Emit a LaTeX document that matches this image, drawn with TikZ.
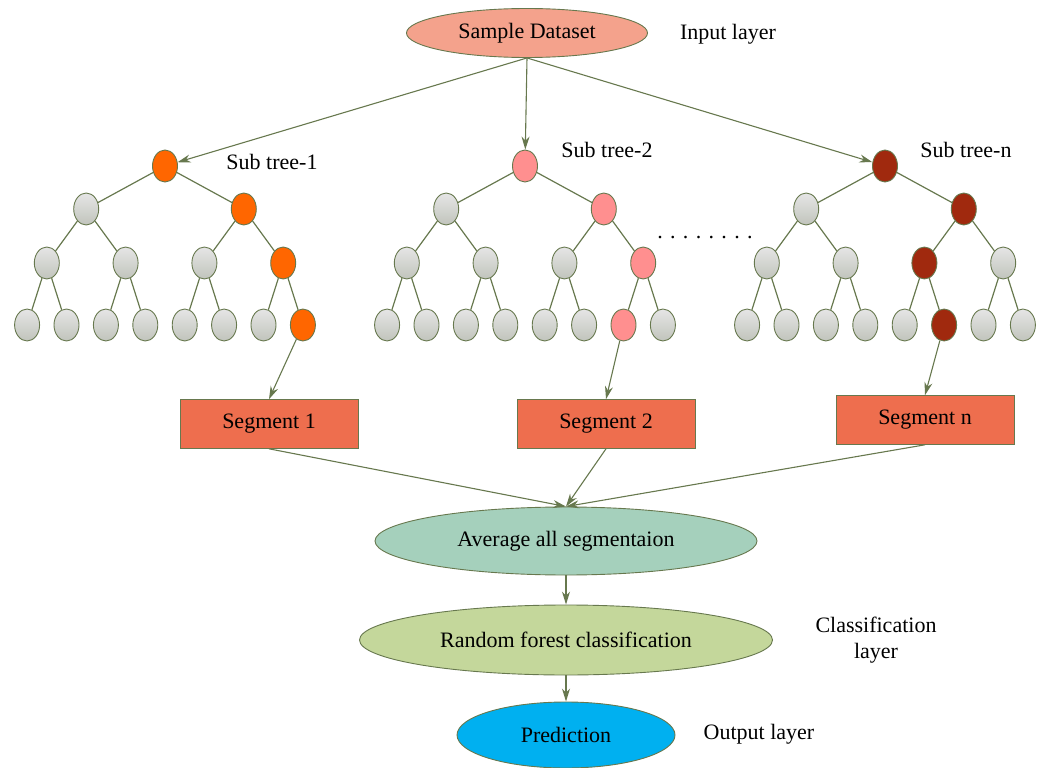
\documentclass[tikz,border=0pt]{standalone}
\usepackage{fontspec}
\setmainfont{Liberation Serif}
\usetikzlibrary{positioning,shapes.geometric,arrows.meta}

\definecolor{olive}{HTML}{67784E}
\definecolor{dsfill}{HTML}{F4A28C}
\definecolor{segfill}{HTML}{EE6E4E}
\definecolor{avgfill}{HTML}{A5D0BC}
\definecolor{rffill}{HTML}{C4D79B}
\definecolor{predfill}{HTML}{00B0F0}
\definecolor{hotorange}{HTML}{FF6600}
\definecolor{hotpink}{HTML}{FF8F8F}
\definecolor{hotred}{HTML}{A0290E}

\tikzset{
  tnode/.style={ellipse,draw=olive,line width=0.9pt,minimum width=25pt,minimum height=32pt,inner sep=0pt},
  leaf/.style={tnode,top color=gray!20!white,bottom color=gray!55!olive!45!white},
  hotA/.style={tnode,fill=hotorange},
  hotB/.style={tnode,fill=hotpink},
  hotC/.style={tnode,fill=hotred},
  tedge/.style={draw=olive,line width=1.2pt},
  arr/.style={->,draw=olive,line width=1.1pt},
  bigell/.style={ellipse,draw=olive,line width=0.9pt,inner sep=0pt},
  segbox/.style={rectangle,draw=olive,line width=0.6pt,fill=segfill,minimum width=178pt,minimum height=49pt}
}

\begin{document}
\begin{tikzpicture}[x=1pt,y=-1pt,on grid,font=\fontsize{22}{26}\selectfont,
  >={Stealth[length=13pt,width=8pt]}]
  \useasboundingbox (0,0) rectangle (1045,768);

  % input layer
  \node[bigell,fill=dsfill,minimum width=241pt,minimum height=49pt] (ds) at (527,33) {Sample Dataset};
  \node (inlab) at (728,34) {Input layer};

  % sub tree 1
  \node[hotA] (a1) at (165,166) {};
  \node[leaf] (a2) [below left=43pt and 78.8pt of a1] {};
  \node[hotA] (a3) [below right=43pt and 78.8pt of a1] {};
  \node[leaf] (a4) [below left=54pt and 39.4pt of a2] {};
  \node[leaf] (a5) [below right=54pt and 39.4pt of a2] {};
  \node[leaf] (a6) [below left=54pt and 39.4pt of a3] {};
  \node[hotA] (a7) [below right=54pt and 39.4pt of a3] {};
  \node[leaf] (a8) [below left=62pt and 19.7pt of a4] {};
  \node[leaf] (a9) [below right=62pt and 19.7pt of a4] {};
  \node[leaf] (a10) [below left=62pt and 19.7pt of a5] {};
  \node[leaf] (a11) [below right=62pt and 19.7pt of a5] {};
  \node[leaf] (a12) [below left=62pt and 19.7pt of a6] {};
  \node[leaf] (a13) [below right=62pt and 19.7pt of a6] {};
  \node[leaf] (a14) [below left=62pt and 19.7pt of a7] {};
  \node[hotA] (a15) [below right=62pt and 19.7pt of a7] {};
  \path[tedge] (a1) edge (a2) edge (a3)
    (a2) edge (a4) edge (a5)
    (a3) edge (a6) edge (a7)
    (a4) edge (a8) edge (a9)
    (a5) edge (a10) edge (a11)
    (a6) edge (a12) edge (a13)
    (a7) edge (a14) edge (a15);
  \node (st1) at (272,162) {Sub tree-1};

  % sub tree 2
  \node[hotB] (b1) at (525,166) {};
  \node[leaf] (b2) [below left=43pt and 78.8pt of b1] {};
  \node[hotB] (b3) [below right=43pt and 78.8pt of b1] {};
  \node[leaf] (b4) [below left=54pt and 39.4pt of b2] {};
  \node[leaf] (b5) [below right=54pt and 39.4pt of b2] {};
  \node[leaf] (b6) [below left=54pt and 39.4pt of b3] {};
  \node[hotB] (b7) [below right=54pt and 39.4pt of b3] {};
  \node[leaf] (b8) [below left=62pt and 19.7pt of b4] {};
  \node[leaf] (b9) [below right=62pt and 19.7pt of b4] {};
  \node[leaf] (b10) [below left=62pt and 19.7pt of b5] {};
  \node[leaf] (b11) [below right=62pt and 19.7pt of b5] {};
  \node[leaf] (b12) [below left=62pt and 19.7pt of b6] {};
  \node[leaf] (b13) [below right=62pt and 19.7pt of b6] {};
  \node[hotB] (b14) [below left=62pt and 19.7pt of b7] {};
  \node[leaf] (b15) [below right=62pt and 19.7pt of b7] {};
  \path[tedge] (b1) edge (b2) edge (b3)
    (b2) edge (b4) edge (b5)
    (b3) edge (b6) edge (b7)
    (b4) edge (b8) edge (b9)
    (b5) edge (b10) edge (b11)
    (b6) edge (b12) edge (b13)
    (b7) edge (b14) edge (b15);
  \node (st2) at (607,150) {Sub tree-2};

  \node (dots) at (705,238) {. . . . . . . .};

  % sub tree n
  \node[hotC] (c1) at (885,166) {};
  \node[leaf] (c2) [below left=43pt and 78.8pt of c1] {};
  \node[hotC] (c3) [below right=43pt and 78.8pt of c1] {};
  \node[leaf] (c4) [below left=54pt and 39.4pt of c2] {};
  \node[leaf] (c5) [below right=54pt and 39.4pt of c2] {};
  \node[hotC] (c6) [below left=54pt and 39.4pt of c3] {};
  \node[leaf] (c7) [below right=54pt and 39.4pt of c3] {};
  \node[leaf] (c8) [below left=62pt and 19.7pt of c4] {};
  \node[leaf] (c9) [below right=62pt and 19.7pt of c4] {};
  \node[leaf] (c10) [below left=62pt and 19.7pt of c5] {};
  \node[leaf] (c11) [below right=62pt and 19.7pt of c5] {};
  \node[leaf] (c12) [below left=62pt and 19.7pt of c6] {};
  \node[hotC] (c13) [below right=62pt and 19.7pt of c6] {};
  \node[leaf] (c14) [below left=62pt and 19.7pt of c7] {};
  \node[leaf] (c15) [below right=62pt and 19.7pt of c7] {};
  \path[tedge] (c1) edge (c2) edge (c3)
    (c2) edge (c4) edge (c5)
    (c3) edge (c6) edge (c7)
    (c4) edge (c8) edge (c9)
    (c5) edge (c10) edge (c11)
    (c6) edge (c12) edge (c13)
    (c7) edge (c14) edge (c15);
  \node (stn) at (966,150) {Sub tree-n};

  % segments
  \node[segbox] (seg1) at (269,424) {Segment 1};
  \node[segbox] (seg2) at (606,424) {Segment 2};
  \node[segbox] (segn) at (925,420) {Segment n};

  % classification and output
  \node[bigell,fill=avgfill,minimum width=382pt,minimum height=68pt] (avg) at (566,541) {Average all segmentaion};
  \node[bigell,fill=rffill,minimum width=413pt,minimum height=70pt] (rf) at (566,640) {Random forest classification};
  \node[bigell,fill=predfill,minimum width=218pt,minimum height=66pt] (pred) at (566,735) {Prediction};
  \node[align=center] (clslab) at (876,640) {Classification\\layer};
  \node (outlab) at (759,734) {Output layer};

  \draw[arr] (ds.south) -- (a1);
  \draw[arr] (ds.south) -- (b1);
  \draw[arr] (ds.south) -- (c1);
  \draw[arr] (a15) -- (seg1.north);
  \draw[arr] (b14) -- (seg2.north);
  \draw[arr] (c13) -- (segn.north);
  \draw[arr] (seg1.south) -- (avg.north);
  \draw[arr] (seg2.south) -- (avg.north);
  \draw[arr] (segn.south) -- (avg.north);
  \draw[arr] (avg) -- (rf);
  \draw[arr] (rf) -- (pred);
\end{tikzpicture}
\end{document}
